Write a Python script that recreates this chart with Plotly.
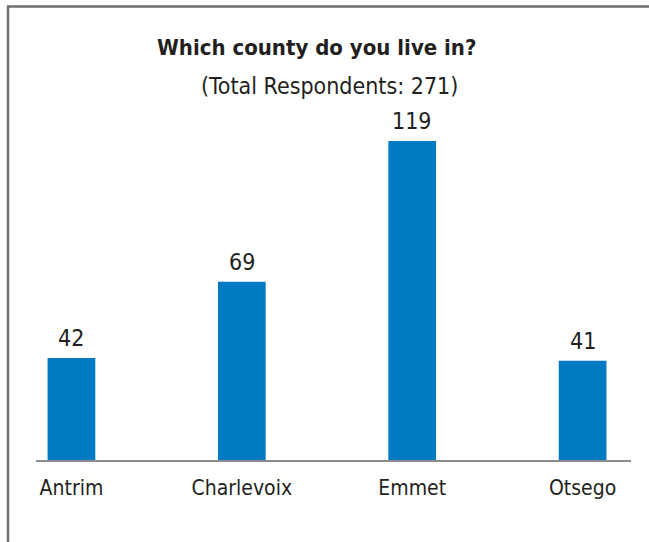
import plotly.graph_objects as go

# Survey responses by county
counties = ["Antrim", "Charlevoix", "Emmet", "Otsego"]
respondents = [42, 69, 119, 41]
title_text = "Which county do you live in?"
subtitle_text = "(Total Respondents: 271)"

W, H = 649, 542
L, R, T, B = 36, 18, 130, 82
plot_w = W - L - R
plot_h = H - T - B

BAR_COLOR = "#007ac3"
TEXT_COLOR = "#231f20"
FONT = "DejaVu Sans Condensed, sans-serif"


def px_x(px):
    return (px - L) / plot_w


def px_y(py):
    return (H - B - py) / plot_h


fig = go.Figure(
    go.Bar(
        x=counties,
        y=respondents,
        width=0.28,
        marker=dict(color=BAR_COLOR, line=dict(width=0)),
        hoverinfo="x+y",
    )
)

# value labels above each bar
for c, v in zip(counties, respondents):
    fig.add_annotation(
        x=c, y=v, xref="x", yref="y",
        text=str(v), showarrow=False,
        yanchor="bottom", yshift=5,
        font=dict(family=FONT, size=23, color=TEXT_COLOR),
    )

fig.add_annotation(
    x=px_x(316), y=px_y(47), xref="paper", yref="paper",
    text="<b>" + title_text + "</b>", showarrow=False,
    xanchor="center", yanchor="middle",
    font=dict(family=FONT, size=22, color=TEXT_COLOR),
)
fig.add_annotation(
    x=px_x(329), y=px_y(86), xref="paper", yref="paper",
    text=subtitle_text, showarrow=False,
    xanchor="center", yanchor="middle",
    font=dict(family=FONT, size=23, color=TEXT_COLOR),
)

# frame lines on the left and top
frame = dict(color="#6e6e6e", width=2.5)
fig.add_shape(type="line", xref="paper", yref="paper",
              x0=px_x(8), x1=px_x(8), y0=px_y(H), y1=px_y(6), line=frame)
fig.add_shape(type="line", xref="paper", yref="paper",
              x0=px_x(7), x1=px_x(W), y0=px_y(6.5), y1=px_y(6.5), line=frame)

fig.update_layout(
    width=W, height=H,
    margin=dict(l=L, r=R, t=T, b=B, pad=0),
    paper_bgcolor="white", plot_bgcolor="white",
    showlegend=False,
    font=dict(family=FONT, color=TEXT_COLOR),
    xaxis=dict(
        range=[-0.208, 3.284],
        showline=True, linecolor="#8c8c8c", linewidth=2,
        ticks="outside", ticklen=8, tickcolor="rgba(0,0,0,0)",
        tickfont=dict(family=FONT, size=21, color=TEXT_COLOR),
        showgrid=False, zeroline=False,
    ),
    yaxis=dict(
        range=[5.75, 122.9],
        visible=False, showgrid=False, zeroline=False,
    ),
)

fig.write_html("out.html")
